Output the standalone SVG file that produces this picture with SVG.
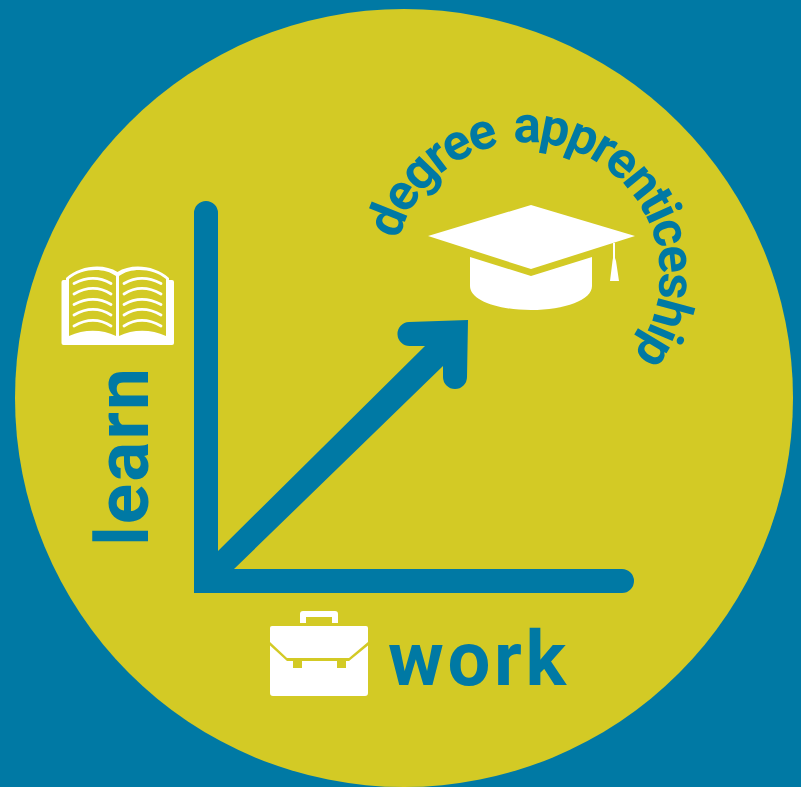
<svg xmlns="http://www.w3.org/2000/svg" width="801" height="787" viewBox="0 0 801 787">
<style>
.t{font-family:"Roboto","Liberation Sans",sans-serif;font-weight:700;fill:#0079A4}
.w{fill:#fff}
.y{fill:#D3CA25}
.p{fill:none;stroke:#fff;stroke-width:2.800;stroke-linecap:round}
</style>
<defs><path id="arc" d="M398.500 240 A133 133 0 1 1 640 345"/></defs>
<rect width="801" height="787" fill="#0079A4"/>
<circle cx="404" cy="398" r="389" fill="#D3CA25"/>
<g id="connectors">
<path fill="#0079A4" d="M194 593V213a12 12 0 0 1 24 0V551L425 346H410a12 12 0 0 1 -1 -24L468 320L467 377a12 12 0 0 1 -24 0V366L234 569H622a12 12 0 0 1 0 24Z"/>
</g>
<g id="title"><text class="t" font-size="51" word-spacing="6"><textPath href="#arc" textLength="468" lengthAdjust="spacing">degree apprenticeship</textPath></text></g>
<g id="cap">
<path class="w" d="M428 236L531 205L635 236L531 269Z"/>
<path class="w" d="M470 257L531 276L592 257V286C592 300 565 310 531 310C497 310 470 300 470 286Z"/>
<path class="w" d="M613 243h2v15l1 3l3 20h-9l2.500 -20l.5 -3Z"/>
</g>
<g id="learn">
<text class="t" font-size="75" transform="translate(148 546) rotate(-90)" textLength="178">learn</text>
<rect class="w" x="61.500" y="280" width="112.500" height="65" rx="2"/>
<path class="w" d="M66 278C80 265 104 263 117.500 272C131 263 155 265 169 278V338H66Z"/>
<path class="y" d="M69 279C82 268 104 267 116 276V336C102 329 84 329 69 336Z"/>
<path class="y" d="M119 276C131 267 153 268 166 279V336C151 329 133 329 119 336Z"/>
<path class="p" d="M74 283.500C88 276 100 277 111 283.500M74 294C88 286 100 287 111 294M74 304.500C88 297 100 298 111 304.500M74 315C88 307 100 308 111 315M74 326C88 318 100 319 111 326M124 283.500C135 277 147 276 161 283.500M124 294C135 287 147 286 161 294M124 304.500C135 298 147 297 161 304.500M124 315C135 308 147 307 161 315M124 326C135 319 147 318 161 326"/>
</g>
<g id="work">
<text class="t" font-size="76" x="388" y="685" textLength="178">work</text>
<path class="w" d="M300 623V614Q300 611 303 611H335Q338 611 338 614V623H332V617H306V623Z"/>
<path class="w" d="M272 626H366Q368 626 368 628V642L349 658H287L270 642V628Q270 626 272 626Z"/>
<path class="w" d="M270 645.500L287 661H293V668H302V661H337V668H346V661H349L368 645.500V693Q368 696 365 696H273Q270 696 270 693Z"/>
</g>
</svg>
